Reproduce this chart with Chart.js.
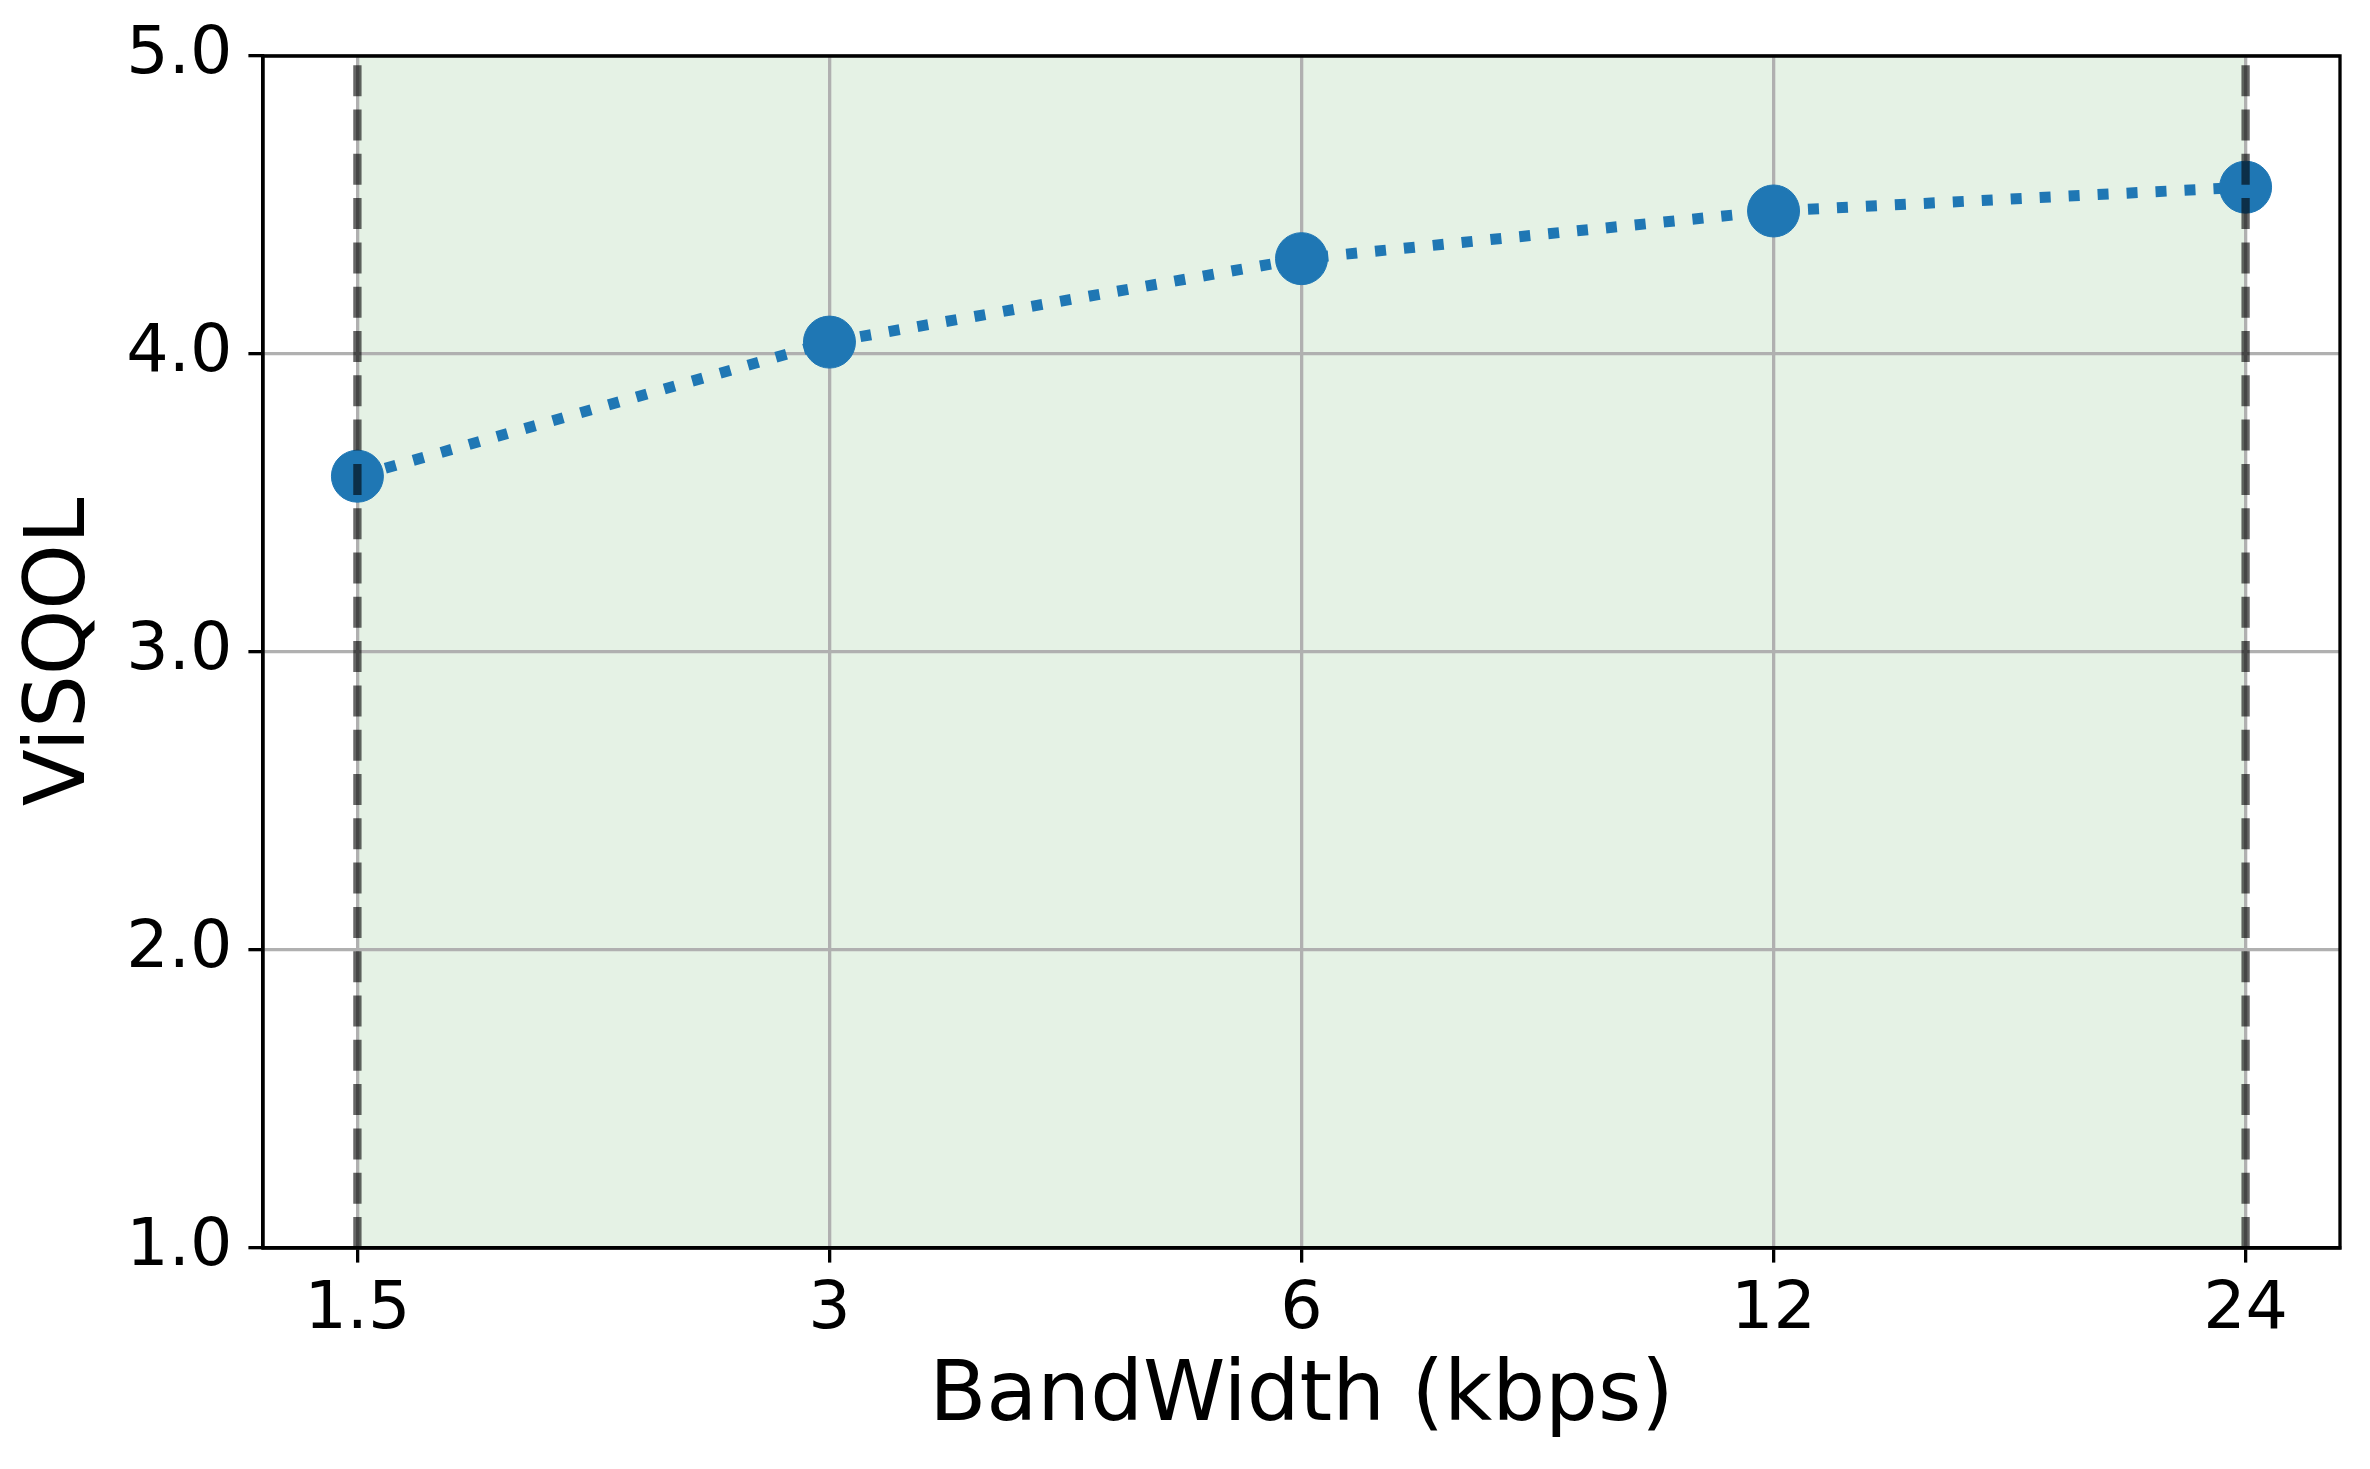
<!DOCTYPE html>
<html>
<head>
<meta charset="utf-8">
<style>
  html, body { margin: 0; padding: 0; background: #ffffff; }
  #wrap { width: 2370px; height: 1469px; }
</style>
<script src="https://cdn.jsdelivr.net/npm/chart.js@4/dist/chart.umd.min.js"></script>
</head>
<body>
<div id="wrap"><canvas id="c" width="2370" height="1469"></canvas></div>
<script>
// ---- data ----
const categories = ['1.5', '3', '6', '12', '24'];      // BandWidth (kbps)
const visqol = [3.59, 4.04, 4.32, 4.48, 4.56];          // ViSQOL score
const yTicks = [1, 2, 3, 4, 5];
const yTickLabels = ['1.0', '2.0', '3.0', '4.0', '5.0'];
const xTitle = 'BandWidth (kbps)';
const yTitle = 'ViSQOL';

// ---- derived ----
const firstIdx = 0;
const lastIdx = categories.length - 1;
const yMin = yTicks[0];
const yMax = yTicks[yTicks.length - 1];
const seriesPoints = visqol.map((v, i) => ({ x: i, y: v }));

const FONT = "'DejaVu Sans', 'Liberation Sans', sans-serif";
const LW = 3.3;

const framePlugin = {
  id: 'frame',
  afterDraw(chart) {
    const { ctx, chartArea: a } = chart;
    ctx.save();
    ctx.strokeStyle = '#000';
    ctx.lineWidth = LW;
    ctx.lineCap = 'square';
    ctx.beginPath();
    ctx.moveTo(a.left, a.bottom);
    ctx.lineTo(a.left, a.top);
    ctx.lineTo(a.right, a.top);
    ctx.lineTo(a.right, a.bottom);
    ctx.lineTo(a.left, a.bottom);
    ctx.stroke();
    ctx.restore();
  }
};

new Chart(document.getElementById('c'), {
  type: 'line',
  data: {
    datasets: [
      {
        // shaded span
        data: [{ x: firstIdx, y: yMax }, { x: lastIdx, y: yMax }],
        fill: 'start',
        backgroundColor: 'rgba(0,128,0,0.1)',
        borderWidth: 0,
        pointRadius: 0,
        order: 3
      },
      {
        data: seriesPoints,
        borderColor: '#1f77b4',
        backgroundColor: '#1f77b4',
        borderWidth: 11,
        borderDash: [11, 18],
        borderCapStyle: 'butt',
        pointRadius: 26,
        pointBorderWidth: 1,
        pointBackgroundColor: '#1f77b4',
        pointBorderColor: '#1f77b4',
        fill: false,
        tension: 0,
        order: 2
      },
      {
        data: [{ x: firstIdx, y: yMin }, { x: firstIdx, y: yMax }],
        borderColor: 'rgba(0,0,0,0.6)',
        borderWidth: 8.3,
        borderDash: [31, 13.3],
        pointRadius: 0,
        fill: false,
        order: 1
      },
      {
        data: [{ x: lastIdx, y: yMin }, { x: lastIdx, y: yMax }],
        borderColor: 'rgba(0,0,0,0.6)',
        borderWidth: 8.3,
        borderDash: [31, 13.3],
        pointRadius: 0,
        fill: false,
        order: 1
      }
    ]
  },
  options: {
    responsive: false,
    devicePixelRatio: 1,
    animation: false,
    layout: { padding: { left: 0, top: 54, right: 30, bottom: 0 } },
    plugins: {
      legend: { display: false },
      tooltip: { enabled: false },
      filler: { drawTime: 'beforeDraw' }
    },
    scales: {
      x: {
        type: 'linear',
        min: firstIdx - 0.2,
        max: lastIdx + 0.2,
        afterBuildTicks(scale) {
          scale.ticks = categories.map((_, i) => ({ value: i }));
        },
        afterFit(scale) { scale.height = 221; },
        ticks: {
          autoSkip: false,
          maxRotation: 0,
          padding: 8,
          color: '#000',
          font: { family: FONT, size: 66.7 },
          callback: (v, i) => categories[i]
        },
        grid: {
          color: '#b0b0b0',
          lineWidth: LW,
          tickLength: 14.6,
          tickColor: '#000',
          tickWidth: LW
        },
        border: { display: true, color: '#000', width: LW },
        title: {
          display: true,
          text: xTitle,
          color: '#000',
          font: { family: FONT, size: 83.3 },
          padding: { top: 0, bottom: 21 }
        }
      },
      y: {
        type: 'linear',
        min: yMin,
        max: yMax,
        afterBuildTicks(scale) {
          scale.ticks = yTicks.map(v => ({ value: v }));
        },
        afterFit(scale) { scale.width = 263; },
        ticks: {
          padding: 16,
          color: '#000',
          font: { family: FONT, size: 66.7 },
          callback: (v, i) => yTickLabels[i]
        },
        grid: {
          color: '#b0b0b0',
          lineWidth: LW,
          tickLength: 14.6,
          tickColor: '#000',
          tickWidth: LW
        },
        border: { display: true, color: '#000', width: LW },
        title: {
          display: true,
          text: yTitle,
          color: '#000',
          font: { family: FONT, size: 83.3 },
          padding: { top: 12, bottom: 0 }
        }
      }
    }
  },
  plugins: [framePlugin]
});
</script>
</body>
</html>
